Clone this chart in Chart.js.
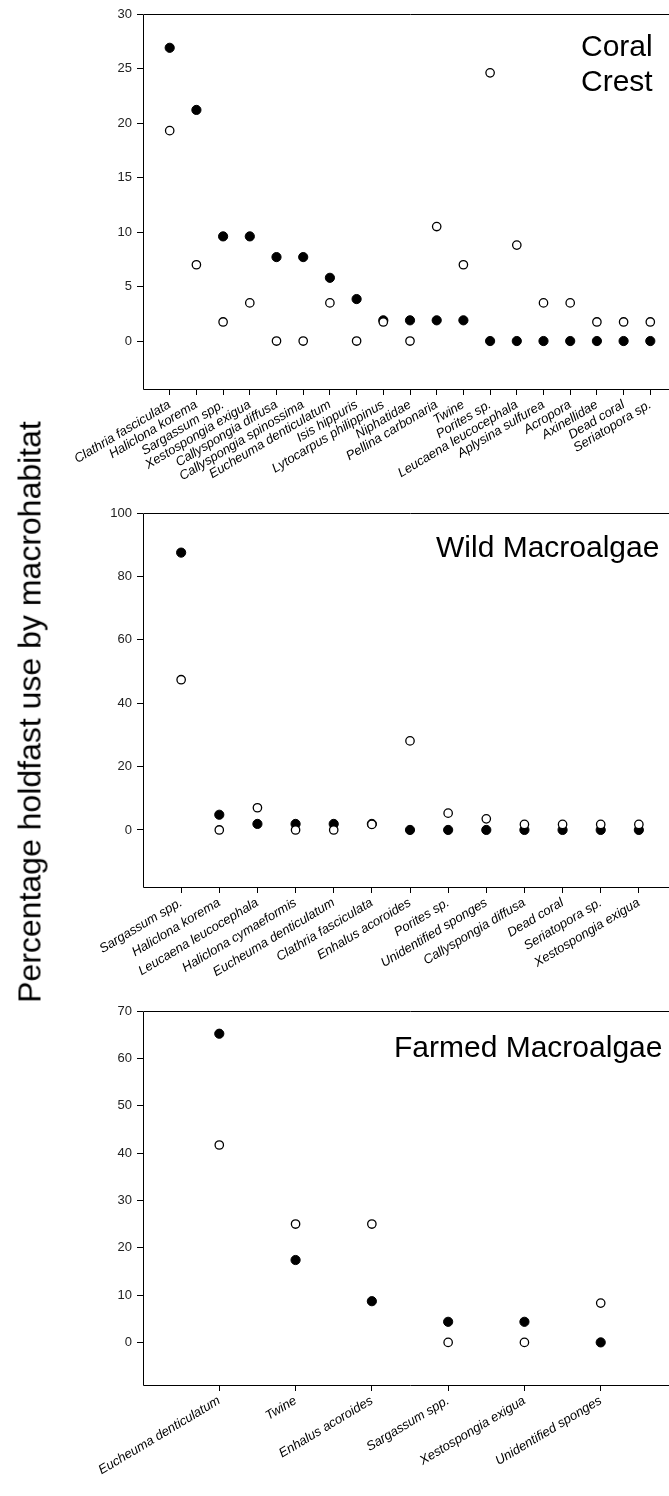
<!DOCTYPE html>
<html>
<head>
<meta charset="utf-8">
<script src="https://cdn.jsdelivr.net/npm/chart.js@4.4.1/dist/chart.umd.min.js"></script>
<style>
  body { margin: 0; width: 669px; height: 1496px; overflow: hidden; background: #fff; position: relative; }
  canvas { position: absolute; left: 0; }
  #ytitle {
    position: absolute; left: 30px; top: 712px;
    transform: translate(-50%, -50%) rotate(-90deg);
    white-space: nowrap; font-family: "Liberation Sans", Arial, sans-serif; font-size: 32px; color: #000;
  }
</style>
</head>
<body>
<canvas id="coral" width="690" height="500" style="top:0px"></canvas>
<canvas id="wild" width="690" height="500" style="top:499px"></canvas>
<canvas id="farmed" width="690" height="500" style="top:997px"></canvas>
<div id="ytitle">Percentage holdfast use by macrohabitat</div>
<script>
// Coral Crest
const coralLabels = ["Clathria fasciculata", "Haliclona korema", "Sargassum spp.", "Xestospongia exigua",
  "Callyspongia diffusa", "Callyspongia spinossima", "Eucheuma denticulatum", "Isis hippuris",
  "Lytocarpus philippinus", "Niphatidae", "Pellina carbonaria", "Twine", "Porites sp.",
  "Leucaena leucocephala", "Aplysina sulfurea", "Acropora", "Axinellidae", "Dead coral", "Seriatopora sp."];
const coralFilled = [26.9, 21.2, 9.6, 9.6, 7.7, 7.7, 5.8, 3.85, 1.9, 1.9, 1.9, 1.9, 0, 0, 0, 0, 0, 0, 0];
const coralOpen = [19.3, 7.0, 1.75, 3.5, 0, 0, 3.5, 0, 1.75, 0, 10.5, 7.0, 24.6, 8.8, 3.5, 3.5, 1.75, 1.75, 1.75];
const coralTicks = [0, 5, 10, 15, 20, 25, 30];

// Wild Macroalgae
const wildLabels = ["Sargassum spp.", "Haliclona korema", "Leucaena leucocephala", "Haliclona cymaeformis",
  "Eucheuma denticulatum", "Clathria fasciculata", "Enhalus acoroides", "Porites sp.", "Unidentified sponges",
  "Callyspongia diffusa", "Dead coral", "Seriatopora sp.", "Xestospongia exigua"];
const wildFilled = [87.5, 4.8, 1.9, 1.9, 1.9, 1.9, 0, 0, 0, 0, 0, 0, 0];
const wildOpen = [47.4, 0, 7.0, 0, 0, 1.75, 28.1, 5.3, 3.5, 1.75, 1.75, 1.75, 1.75];
const wildTicks = [0, 20, 40, 60, 80, 100];

// Farmed Macroalgae
const farmedLabels = ["Eucheuma denticulatum", "Twine", "Enhalus acoroides", "Sargassum spp.",
  "Xestospongia exigua", "Unidentified sponges"];
const farmedFilled = [65.2, 17.4, 8.7, 4.35, 4.35, 0];
const farmedOpen = [41.7, 25, 25, 0, 0, 8.3];
const farmedTicks = [0, 10, 20, 30, 40, 50, 60, 70];

const FONT = '"Liberation Sans", Arial, sans-serif';

// outline of the plot box (right edge falls outside the page)
const framePlugin = {
  id: 'frame',
  afterDraw(chart) {
    const a = chart.chartArea, ctx = chart.ctx;
    ctx.save();
    ctx.strokeStyle = '#000';
    ctx.lineWidth = 1;
    ctx.beginPath();
    ctx.moveTo(Math.round(a.right) + 0.5, Math.round(a.top) + 0.5);
    ctx.lineTo(Math.round(a.left) + 0.5, Math.round(a.top) + 0.5);
    ctx.lineTo(Math.round(a.left) + 0.5, Math.round(a.bottom) + 0.5);
    ctx.lineTo(Math.round(a.right) + 0.5, Math.round(a.bottom) + 0.5);
    ctx.stroke();
    ctx.restore();
  }
};

const titlePlugin = {
  id: 'panelTitle',
  afterDraw(chart, args, opts) {
    const ctx = chart.ctx;
    ctx.save();
    ctx.fillStyle = '#000';
    ctx.font = '30px ' + FONT;
    ctx.textAlign = 'left';
    ctx.textBaseline = 'alphabetic';
    opts.lines.forEach((line, i) => {
      ctx.fillText(line, opts.x, chart.chartArea.top + opts.y + i * 35);
    });
    ctx.restore();
  }
};

function makeChart(id, labels, filled, open, yMin, yMax, yTicks, title, titleX, titleY, xHeight) {
  const toPts = vals => vals.map((v, i) => ({ x: labels[i], y: v }));
  const allLabels = [''].concat(labels, ['']);
  return new Chart(document.getElementById(id), {
    type: 'scatter',
    data: {
      datasets: [
        {
          label: 'open', data: toPts(open), order: 0,
          pointRadius: 4.2, pointBorderWidth: 1.3,
          pointBackgroundColor: '#fff', pointBorderColor: '#000'
        },
        {
          label: 'filled', data: toPts(filled), order: 1,
          pointRadius: 4.6, pointBorderWidth: 1,
          pointBackgroundColor: '#000', pointBorderColor: '#000'
        }
      ]
    },
    options: {
      responsive: false,
      animation: false,
      layout: { padding: { top: 14, right: 13, left: 0, bottom: 0 } },
      plugins: {
        legend: { display: false },
        tooltip: { enabled: false },
        panelTitle: { lines: title, x: titleX, y: titleY }
      },
      scales: {
        x: {
          type: 'category',
          labels: allLabels,
          offset: false,
          border: { display: false },
          grid: {
            drawOnChartArea: false, tickLength: 6, tickWidth: 1,
            color: ctx => (ctx.index === 0 || ctx.index === allLabels.length - 1) ? 'rgba(0,0,0,0)' : '#000'
          },
          ticks: {
            autoSkip: false, minRotation: 31, maxRotation: 31, padding: 2,
            color: '#000', font: { family: FONT, size: 13, style: 'italic' }
          },
          afterFit: s => { s.height = xHeight; }
        },
        y: {
          min: yMin, max: yMax,
          afterBuildTicks: s => { s.ticks = yTicks.map(v => ({ value: v })); },
          border: { display: false },
          grid: { drawOnChartArea: false, tickLength: 6, color: '#000' },
          ticks: { color: '#222', padding: 5, font: { family: FONT, size: 13 } },
          afterFit: s => { s.width = 143; }
        }
      }
    },
    plugins: [framePlugin, titlePlugin]
  });
}

makeChart('coral', coralLabels, coralFilled, coralOpen, -4.4, 30, coralTicks, ['Coral', 'Crest'], 581, 42, 111);
makeChart('wild', wildLabels, wildFilled, wildOpen, -18, 100, wildTicks, ['Wild Macroalgae'], 436, 44, 112);
makeChart('farmed', farmedLabels, farmedFilled, farmedOpen, -9, 70, farmedTicks, ['Farmed Macroalgae'], 394, 46, 112);
</script>
</body>
</html>
